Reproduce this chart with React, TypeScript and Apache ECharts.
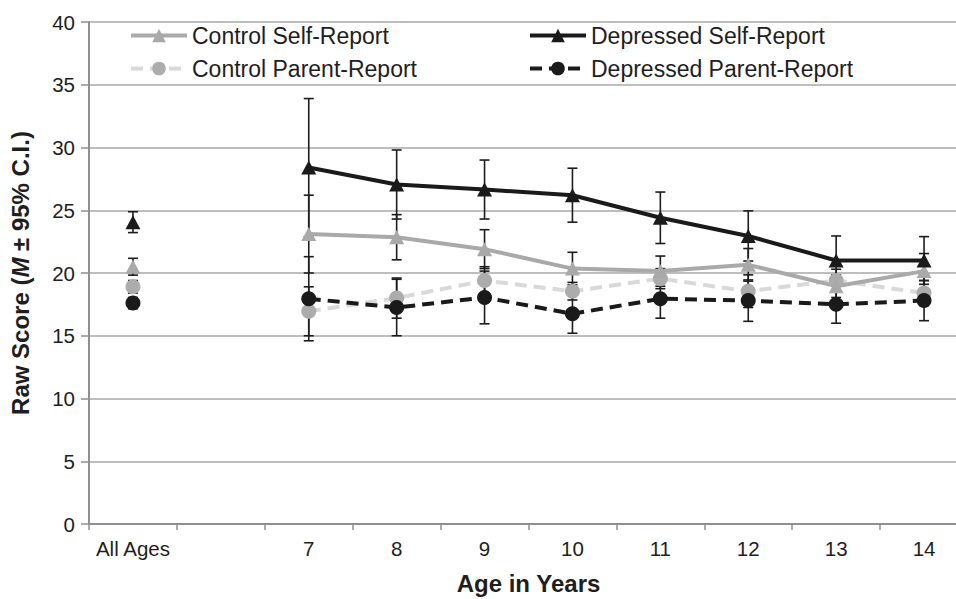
import React, { useEffect, useRef } from "react";
import * as echarts from "echarts";

// Age groups on the horizontal axis; the empty slot separates the pooled sample from the yearly ages
const categories = ["All Ages", "", "7", "8", "9", "10", "11", "12", "13", "14"];

// Mean raw scores per group
const controlSelf = [20.5, null, 23.1, 22.85, 21.9, 20.35, 20.15, 20.65, 18.95, 20.15];
const depressedSelf = [24.05, null, 28.4, 27.05, 26.65, 26.2, 24.4, 22.95, 21.0, 21.0];
const controlParent = [18.9, null, 16.95, 18.0, 19.4, 18.55, 19.55, 18.55, 19.4, 18.4];
const depressedParent = [17.6, null, 17.95, 17.25, 18.05, 16.75, 17.95, 17.8, 17.5, 17.8];

// Half-widths of the 95% confidence intervals
const controlSelfCI = [0.67, null, 3.1, 1.8, 1.55, 1.3, 1.2, 1.3, 0.9, 1.4];
const depressedSelfCI = [0.83, null, 5.5, 2.75, 2.35, 2.15, 2.05, 2.0, 1.95, 1.9];
const controlParentCI = [0.5, null, 1.95, 1.6, 1.1, 0.7, 0.8, 1.3, 0.9, 1.0];
const depressedParentCI = [0.45, null, 3.35, 2.25, 2.1, 1.55, 1.55, 1.65, 1.5, 1.6];

const yTicks = [0, 5, 10, 15, 20, 25, 30, 35, 40];

const FONT = "'Liberation Sans', Arial, Helvetica, sans-serif";

function intervals(means: (number | null)[], ci: (number | null)[]) {
  const out: number[][] = [];
  means.forEach((m, i) => {
    const h = ci[i];
    if (m == null || h == null) return;
    out.push([i, m - h, m + h]);
  });
  return out;
}

function errorBars(name: string, means: (number | null)[], ci: (number | null)[]) {
  return {
    type: "custom",
    name,
    silent: true,
    data: intervals(means, ci),
    encode: { x: 0, y: [1, 2] },
    renderItem: (_params: any, api: any) => {
      const x = api.value(0);
      const lo = api.coord([x, api.value(1)]);
      const hi = api.coord([x, api.value(2)]);
      const hw = 5;
      const style = { stroke: "#1c1c1c", lineWidth: 1.6, fill: "none" };
      return {
        type: "group",
        children: [
          { type: "line", shape: { x1: lo[0], y1: lo[1], x2: hi[0], y2: hi[1] }, style },
          { type: "line", shape: { x1: lo[0] - hw, y1: lo[1], x2: lo[0] + hw, y2: lo[1] }, style },
          { type: "line", shape: { x1: hi[0] - hw, y1: hi[1], x2: hi[0] + hw, y2: hi[1] }, style },
        ],
      };
    },
  };
}

export default function App() {
  const ref = useRef<HTMLDivElement>(null);

  useEffect(() => {
    document.body.style.margin = "0";
    if (!ref.current) return;
    const chart = echarts.init(ref.current, undefined, { renderer: "svg" });

    const legendText = { fontFamily: FONT, fontSize: 23, color: "#1e1e1e" };
    const legendBase = {
      orient: "vertical",
      top: 24,
      padding: 0,
      itemWidth: 56,
      itemHeight: 17,
      itemGap: 10,
      textStyle: legendText,
      lineStyle: { width: 4 },
      selectedMode: false,
    };

    chart.setOption({
      animation: false,
      backgroundColor: "#ffffff",
      textStyle: { fontFamily: FONT },
      grid: { left: 89, top: 22, width: 879, height: 502, outerBoundsMode: "none" },
      legend: [
        { ...legendBase, data: ["Control Self-Report", "Control Parent-Report"], left: 129 },
        { ...legendBase, data: ["Depressed Self-Report", "Depressed Parent-Report"], left: 528 },
      ],
      xAxis: {
        type: "category",
        data: categories,
        boundaryGap: true,
        name: "Age in Years",
        nameLocation: "middle",
        nameGap: 47,
        nameTextStyle: { fontFamily: FONT, fontSize: 24, fontWeight: "bold", color: "#1e1e1e" },
        axisLine: { lineStyle: { color: "#8f8f8f", width: 2 } },
        axisTick: { show: true, length: 6, lineStyle: { color: "#8f8f8f", width: 1.5 } },
        axisLabel: { fontFamily: FONT, fontSize: 20.5, color: "#1e1e1e", margin: 14, interval: 0 },
        splitLine: { show: false },
      },
      yAxis: {
        type: "value",
        min: yTicks[0],
        max: yTicks[yTicks.length - 1],
        interval: 5,
        name: "{t|Raw Score (}{i|M}{t| ± 95% C.I.)}",
        nameLocation: "middle",
        nameGap: 57,
        nameRotate: 90,
        nameTextStyle: {
          rich: {
            t: { fontFamily: FONT, fontSize: 24, fontWeight: "bold", color: "#1e1e1e" },
            i: { fontFamily: FONT, fontSize: 24, fontWeight: "bold", fontStyle: "italic", color: "#1e1e1e" },
          },
        },
        axisLine: { show: true, lineStyle: { color: "#8f8f8f", width: 2 } },
        axisTick: { show: true, length: 8, lineStyle: { color: "#8f8f8f", width: 1.5 } },
        axisLabel: { fontFamily: FONT, fontSize: 20.5, color: "#1e1e1e", margin: 14 },
        splitLine: { show: true, lineStyle: { color: "#a9a9a9", width: 1.5 } },
      },
      series: [
        {
          type: "line",
          name: "Control Parent-Report",
          data: controlParent,
          symbol: "circle",
          symbolSize: 15,
          itemStyle: { color: "#acacac" },
          lineStyle: { color: "#d9d9d9", width: 4, type: [12, 7] },
        },
        errorBars("ci-control-parent", controlParent, controlParentCI),
        {
          type: "line",
          name: "Control Self-Report",
          data: controlSelf,
          symbol: "triangle",
          symbolSize: [15, 14],
          itemStyle: { color: "#a9a9a9" },
          lineStyle: { color: "#a9a9a9", width: 4 },
        },
        errorBars("ci-control-self", controlSelf, controlSelfCI),
        {
          type: "line",
          name: "Depressed Parent-Report",
          data: depressedParent,
          symbol: "circle",
          symbolSize: 15,
          itemStyle: { color: "#1a1a1a" },
          lineStyle: { color: "#1a1a1a", width: 4, type: [12, 7] },
        },
        errorBars("ci-depressed-parent", depressedParent, depressedParentCI),
        {
          type: "line",
          name: "Depressed Self-Report",
          data: depressedSelf,
          symbol: "triangle",
          symbolSize: [15, 14],
          itemStyle: { color: "#1a1a1a" },
          lineStyle: { color: "#1a1a1a", width: 4 },
        },
        errorBars("ci-depressed-self", depressedSelf, depressedSelfCI),
      ],
    });

    return () => chart.dispose();
  }, []);

  return <div ref={ref} style={{ width: 956, height: 599 }} />;
}
